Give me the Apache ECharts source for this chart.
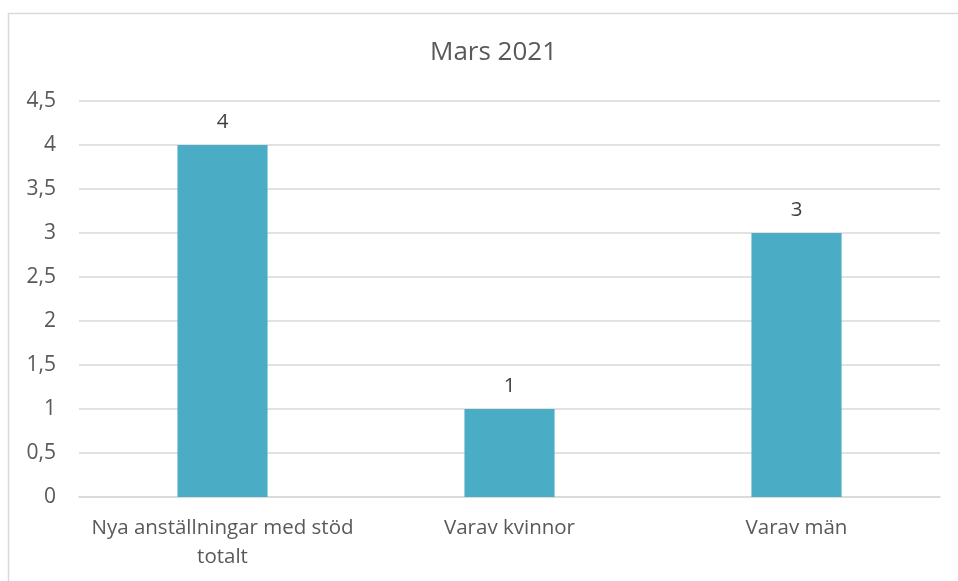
<!DOCTYPE html>
<html>
<head>
<meta charset="utf-8">
<script src="https://cdn.jsdelivr.net/npm/echarts@6/dist/echarts.min.js"></script>
<style>
  html, body { margin: 0; padding: 0; background: #fff; }
  #chart { width: 958px; height: 581px; }
</style>
</head>
<body>
<div id="chart"></div>
<script>
const title = 'Mars 2021'
const categories = ['Nya anställningar med stöd totalt', 'Varav kvinnor', 'Varav män']
const values = [4, 1, 3]

const textColor = '#595959'
const font = '"Open Sans", sans-serif'

// bryt raden som Excel gör, max ~26 tecken per rad
function wrap(text, max) {
  const lines = []
  let line = ''
  text.split(' ').forEach(w => {
    if (line && (line + ' ' + w).length > max) {
      lines.push(line)
      line = w
    } else {
      line = line ? line + ' ' + w : w
    }
  })
  lines.push(line)
  return lines.join('\n')
}

const chart = echarts.init(document.getElementById('chart'))
chart.setOption({
  animation: false,
  textStyle: { fontFamily: font },
  graphic: [{
    type: 'rect',
    shape: { x: 8.5, y: 13.5, width: 1000, height: 700 },
    style: { fill: 'none', stroke: '#d9d9d9', lineWidth: 1.5 },
    silent: true
  }],
  title: {
    text: title,
    left: 425,
    top: 35,
    textStyle: { color: textColor, fontSize: 26, fontWeight: 'normal', fontFamily: font }
  },
  grid: { left: 79, right: 18, top: 101, bottom: 84 },
  xAxis: {
    type: 'category',
    data: categories,
    axisLine: { lineStyle: { color: '#d9d9d9', width: 1.5 } },
    axisTick: { show: false },
    axisLabel: {
      color: textColor, fontSize: 20.5, margin: 17, lineHeight: 29,
      interval: 0, fontFamily: font,
      formatter: v => wrap(v, 26)
    }
  },
  yAxis: {
    type: 'value',
    min: 0,
    max: 4.5,
    interval: 0.5,
    axisLine: { show: false },
    axisTick: { show: false },
    splitLine: { lineStyle: { color: '#d9d9d9', width: 1.5 } },
    axisLabel: {
      color: textColor, fontSize: 21, margin: 23, fontFamily: font,
      formatter: v => String(v).replace('.', ',')
    }
  },
  series: [{
    type: 'bar',
    data: values,
    barWidth: '31.4%',
    itemStyle: { color: '#4bacc6' },
    label: {
      show: true, position: 'top', distance: 12,
      color: '#404040', fontSize: 20.5, fontFamily: font
    }
  }]
})
</script>
</body>
</html>
